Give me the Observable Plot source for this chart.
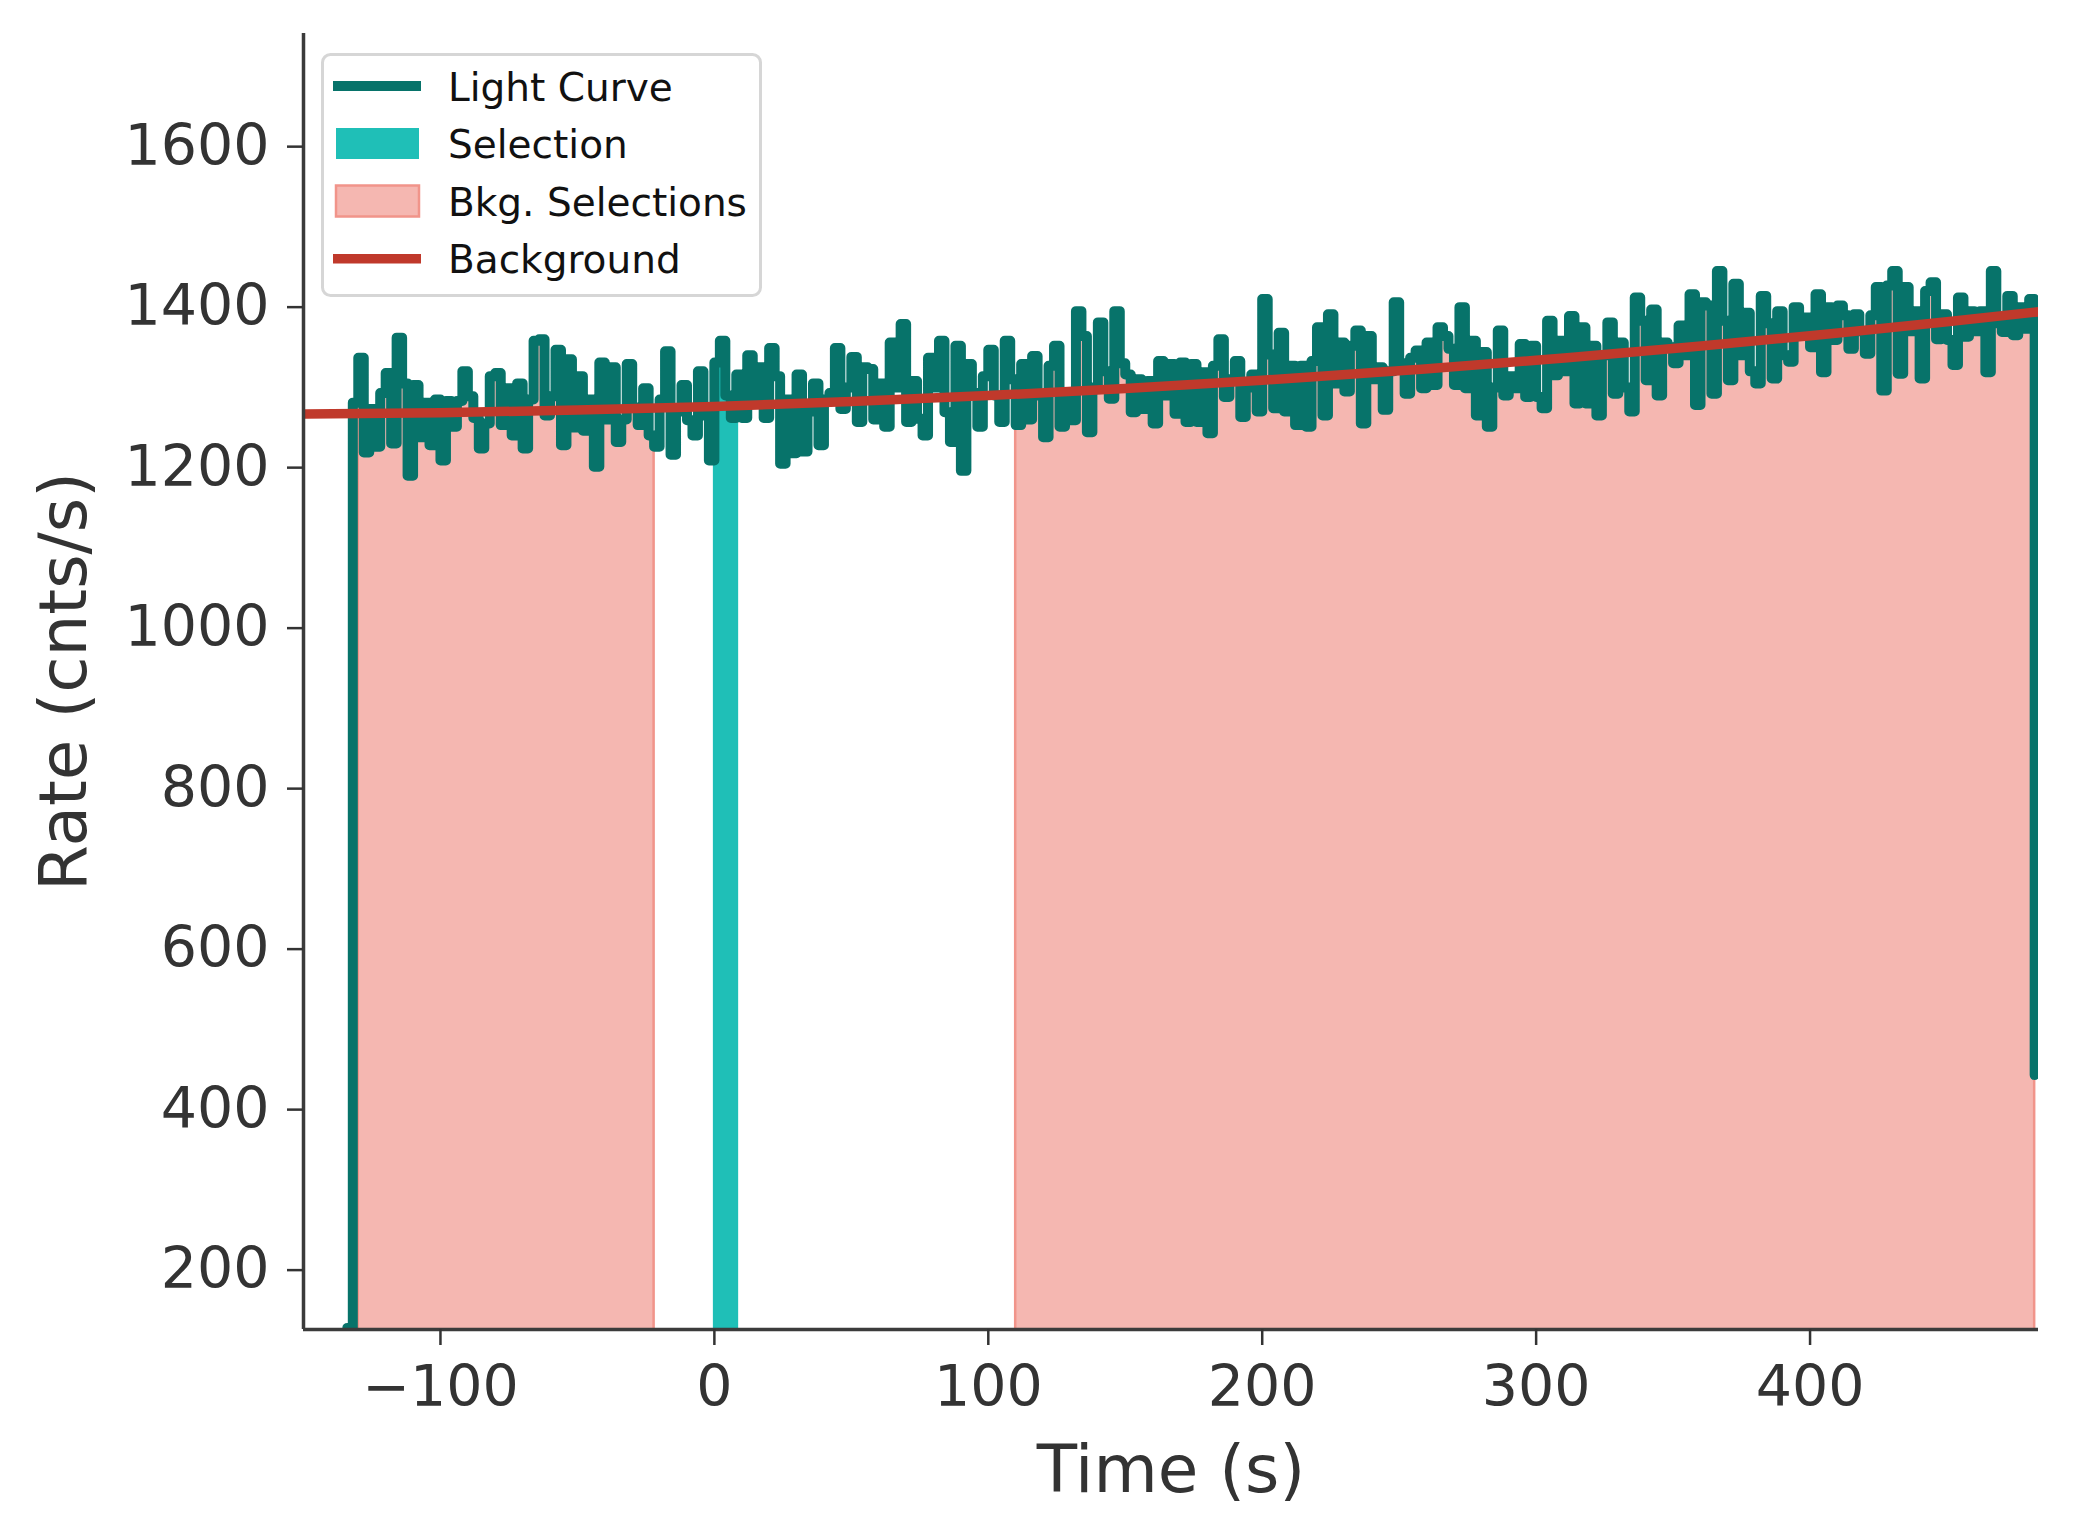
<!DOCTYPE html>
<html><head><meta charset="utf-8">
<script src="https://cdn.jsdelivr.net/npm/d3@7"></script>
<script src="https://cdn.jsdelivr.net/npm/@observablehq/plot@0.6"></script>
<style>
html,body{margin:0;padding:0;background:#fff;}
#wrap{position:relative;width:2073px;height:1540px;}
#legend{position:absolute;left:321px;top:53px;}
</style></head><body>
<div id="wrap"><div id="chart"></div><div id="legend"></div></div>
<script>
// ---- data ----
const lcStart = -134;   // start time of first bin (s)
const lcBin = 2;        // bin width (s)
const lcRate = [
128,
1281,1337,1219,1273,1226,1293,1318,1230,1362,1305,1190,1303,1238,1281,1228,1285,1209,1283,1251,1283,1320,1289,1262,1224,1255,1314,1318,1253,1299,1240,1305,1224,1285,1358,1360,1265,1289,1347,1228,1335,1250,1314,1246,1285,1201,1331,1260,1325,1232,1260,1329,
1275,1253,1299,1240,1226,1285,1345,1216,1270,1303,1259,1240,1320,1265,1209,1331,1358,1290,1262,1316,1262,1340,1280,1325,1262,1349,1314,1205,1285,1218,1316,1220,1270,1305,1228,1285,1293,1349,1273,1300,1338,1257,1325,1323,1260,1305,1251,1356,1300,1379,1257,
1308,1261,1240,1337,1300,1358,1269,1232,1352,1196,1329,1293,1251,1314,1347,1290,1257,1358,1310,1253,1329,1260,1339,1290,1238,1327,1352,1251,1290,1259,1395,1364,1244,1300,1381,1320,1286,1395,1330,1316,1269,1310,1273,1308,1255,1333,1290,1329,1267,1331,1257,
1329,1257,1319,1243,1327,1360,1288,1310,1333,1263,1300,1316,1270,1410,1341,1274,1368,1270,1327,1253,1327,1251,1333,1375,1265,1391,1305,1356,1295,1352,1371,1255,1364,1310,1325,1272,1320,1406,1330,1292,1337,1346,1299,1356,1303,1375,1364,1348,1303,1400,1299,
1358,1265,1344,1251,1300,1371,1290,1314,1299,1354,1288,1352,1288,1274,1383,1315,1358,1320,1389,1280,1375,1280,1352,1265,1340,1381,1292,1356,1300,1270,1412,1383,1309,1397,1290,1356,1350,1330,1377,1340,1416,1278,1406,1402,1292,1445,1383,1309,1429,1340,1393,
1320,1305,1414,1380,1311,1395,1340,1332,1400,1370,1387,1350,1416,1319,1400,1359,1402,1390,1348,1391,1370,1342,1390,1425,1296,1427,1445,1317,1425,1370,1395,1311,1420,1431,1360,1391,1359,1328,1412,1363,1395,1370,1395,1319,1445,1380,1369,1414,1365,1400,1373,1410,
443
];
const bkgTime = [-150,-100,-50,0,50,100,150,200,250,300,350,400,450,484];
const bkgRate = [1266.7,1268.5,1271.7,1276.3,1282.3,1289.8,1298.7,1309.0,1320.7,1333.8,1348.4,1364.4,1381.8,1394.4];
const selections = [[0, 8.5]];
const bkgSelections = [[-130, -22], [110, 482]];
const xTicks = [-100, 0, 100, 200, 300, 400];
const yTicks = [200, 400, 600, 800, 1000, 1200, 1400, 1600];
const xDomain = [-150, 483.4];
const yDomain = [126, 1741];
const legendLabels = ["Light Curve", "Selection", "Bkg. Selections", "Background"];

// ---- colours ----
const cLC = "#07736A", cSel = "#1FBFB7", cBkgFill = "#F5B7B1", cBkgEdge = "#F1948A", cBkg = "#C0392B", cText = "#333333";

// ---- derived tables ----
const lc = lcRate.map((v, i) => ({t: lcStart + i * lcBin, v}));
const bkg = bkgTime.map((t, i) => ({t, v: bkgRate[i]}));
function rateAt(t) {
  let idx = Math.floor((t - lcStart) / lcBin);
  idx = Math.max(0, Math.min(lcRate.length - 1, idx));
  return lcRate[idx];
}
function segment([a, b]) {
  const pts = [{t: a, v: rateAt(a)}];
  lc.forEach(d => { if (d.t > a && d.t < b) pts.push(d); });
  pts.push({t: b, v: rateAt(b - 1e-9)});
  return pts;
}

const chart = Plot.plot({
  width: 2073, height: 1540,
  marginLeft: 303, marginRight: 35, marginTop: 33, marginBottom: 211,
  style: {fontFamily: "'DejaVu Sans', sans-serif", color: cText, background: "white", overflow: "visible"},
  x: {domain: xDomain, label: null},
  y: {domain: yDomain, label: null},
  marks: [
    ...bkgSelections.map(s => Plot.areaY(segment(s), {x: "t", y1: 0, y2: "v", curve: "step-after", fill: cBkgFill, stroke: cBkgEdge, strokeWidth: 2.5, clip: true})),
    ...selections.map(s => Plot.areaY(segment(s), {x: "t", y1: 0, y2: "v", curve: "step-after", fill: cSel, stroke: cSel, strokeWidth: 2, clip: true})),
    Plot.line(lc, {x: "t", y: "v", curve: "step-after", stroke: cLC, strokeWidth: 10, strokeLinejoin: "round", strokeLinecap: "round", clip: true}),
    Plot.line(bkg, {x: "t", y: "v", curve: "natural", stroke: cBkg, strokeWidth: 9.5, clip: true}),
    Plot.ruleX([xDomain[0]], {stroke: "#3b3b3b", strokeWidth: 3.5}),
    Plot.ruleY([yDomain[0]], {stroke: "#3b3b3b", strokeWidth: 3.5}),
    Plot.axisX(xTicks, {tickSize: 16, tickPadding: 20, fontSize: 57, strokeWidth: 2.5, label: null}),
    Plot.axisY(yTicks, {tickSize: 16, tickPadding: 18, fontSize: 57, strokeWidth: 2.5, label: null, tickFormat: d3.format("d")}),
    Plot.text(["Time (s)"], {text: d => d, frameAnchor: "bottom", dy: 141, fontSize: 66, lineAnchor: "middle", textAnchor: "middle", fill: cText}),
    Plot.text(["Rate (cnts/s)"], {text: d => d, frameAnchor: "left", dx: -239, rotate: -90, fontSize: 66, lineAnchor: "middle", textAnchor: "middle", fill: cText})
  ]
});
document.getElementById("chart").appendChild(chart);

// ---- legend (inside the axes, top-left) ----
const lg = d3.select("#legend").append("svg").attr("width", 442).attr("height", 245)
  .style("font-family", "'DejaVu Sans', sans-serif");
lg.append("rect").attr("x", 1.5).attr("y", 1.5).attr("width", 438).attr("height", 241).attr("rx", 8)
  .attr("fill", "white").attr("stroke", "#d6d6d6").attr("stroke-width", 3);
const rowBase = [47.7, 105, 162.5, 220];
const rowMid = [33, 90.5, 148, 205.7];
lg.append("line").attr("x1", 12).attr("x2", 100).attr("y1", rowMid[0]).attr("y2", rowMid[0]).attr("stroke", cLC).attr("stroke-width", 10);
lg.append("rect").attr("x", 15).attr("y", rowMid[1] - 15.5).attr("width", 83).attr("height", 31).attr("fill", cSel);
lg.append("rect").attr("x", 15).attr("y", rowMid[2] - 15.5).attr("width", 83).attr("height", 31).attr("fill", cBkgFill).attr("stroke", cBkgEdge).attr("stroke-width", 2.5);
lg.append("line").attr("x1", 12).attr("x2", 100).attr("y1", rowMid[3]).attr("y2", rowMid[3]).attr("stroke", cBkg).attr("stroke-width", 9.5);
legendLabels.forEach((s, i) => {
  lg.append("text").attr("x", 127).attr("y", rowBase[i]).attr("font-size", 39).attr("fill", "#111").text(s);
});
</script>
</body></html>
